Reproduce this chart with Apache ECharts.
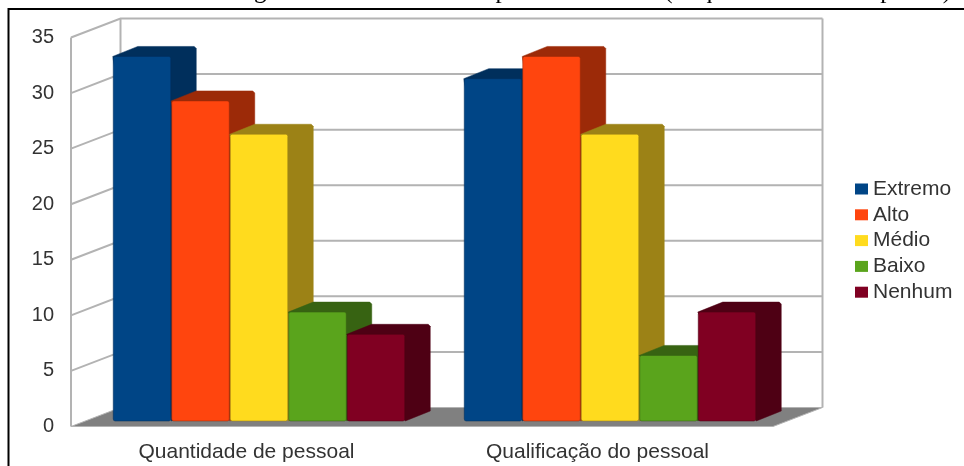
<!DOCTYPE html>
<html>
<head>
<meta charset="utf-8">
<style>html,body{margin:0;padding:0;background:#fff}#chart{width:964px;height:466px}</style>
<script src="https://cdn.jsdelivr.net/npm/echarts@6/dist/echarts.min.js"></script>
</head>
<body>
<div id="chart"></div>
<script>
// Chart data
const categories = ['Quantidade de pessoal', 'Qualificação do pessoal'];
const levels = ['Extremo', 'Alto', 'Médio', 'Baixo', 'Nenhum'];
const extremo = [32.8, 30.8];
const alto = [28.8, 32.8];
const medio = [25.8, 25.8];
const baixo = [9.8, 5.9];
const nenhum = [7.8, 9.8];
const yTicks = [0, 5, 10, 15, 20, 25, 30, 35];
const captionText = 'Nível geral de necessidade de pessoal no ramo (% que o total das respostas)';

// Front face and darker side/top tone of each level
const frontColors = ['#004586', '#ff450e', '#ffdb1e', '#5aa41c', '#800022'];
const sideColors = ['#002f5c', '#9c2a08', '#9c8216', '#376312', '#4e0014'];
const levelValues = [extremo, alto, medio, baixo, nenhum];

// Oblique projection of the box
const BOX_DX = 49.5, BOX_DY = -19;
const BAR_DX = 25, BAR_DY = -10;
const PLANE_DX = 12.5, PLANE_DY = -5.5;
const GRID_COLOR = '#b3b3b3';

function renderWalls(params, api) {
  const cs = params.coordSys;
  const tick = api.value(0);
  const y = api.coord([0, tick])[1];
  const x0 = cs.x, x1 = cs.x + cs.width;
  const line = { stroke: GRID_COLOR, lineWidth: 2, fill: null };
  const children = [];
  if (tick === 0) {
    children.push({
      type: 'polygon',
      shape: { points: [[x0, y], [x1, y], [x1 + BOX_DX, y + BOX_DY], [x0 + BOX_DX, y + BOX_DY]] },
      style: { fill: '#808080', stroke: GRID_COLOR, lineWidth: 1 }
    });
  } else {
    children.push({
      type: 'polyline',
      shape: { points: [[x0, y], [x0 + BOX_DX, y + BOX_DY], [x1 + BOX_DX, y + BOX_DY]] },
      style: line
    });
  }
  if (tick === 35) {
    const yBase = api.coord([0, 0])[1];
    children.push(
      { type: 'line', shape: { x1: x0, y1: y, x2: x0, y2: yBase }, style: line },
      { type: 'line', shape: { x1: x0 + BOX_DX, y1: y + BOX_DY, x2: x0 + BOX_DX, y2: yBase + BOX_DY }, style: line },
      { type: 'line', shape: { x1: x1 + BOX_DX, y1: y + BOX_DY, x2: x1 + BOX_DX, y2: yBase + BOX_DY }, style: line }
    );
  }
  return { type: 'group', children };
}

function barRenderer(levelIndex) {
  return function (params, api) {
    const base = api.coord([api.value(0), 0]);
    const top = api.coord([api.value(0), api.value(1)]);
    const width = api.size([1, 0])[0] / 6;
    const left = base[0] + PLANE_DX + (levelIndex - levels.length / 2) * width;
    const right = left + width;
    const yTop = top[1] + PLANE_DY;
    const yBase = base[1] + PLANE_DY;
    return {
      type: 'group',
      children: [
        {
          type: 'polygon',
          shape: {
            points: [
              [left, yTop],
              [left + BAR_DX, yTop + BAR_DY],
              [right + BAR_DX - 2, yTop + BAR_DY],
              [right + BAR_DX, yTop + BAR_DY + 2],
              [right + BAR_DX, yBase + BAR_DY],
              [right, yBase]
            ]
          },
          style: { fill: sideColors[levelIndex], stroke: sideColors[levelIndex], lineWidth: 0.5 }
        },
        {
          type: 'rect',
          shape: { x: left + 0.5, y: yTop, width: width - 1, height: yBase - yTop, r: 2 },
          style: { fill: frontColors[levelIndex], stroke: sideColors[levelIndex], lineWidth: 1, strokeOpacity: 0.55 }
        }
      ]
    };
  };
}

const wallSeries = {
  name: 'Grade',
  type: 'custom',
  silent: true,
  clip: false,
  z: 1,
  renderItem: renderWalls,
  encode: { y: 0 },
  data: yTicks.map(t => [t])
};

const barSeries = levels.map((name, i) => ({
  name,
  type: 'custom',
  clip: false,
  z: 2 + i,
  itemStyle: { color: frontColors[i] },
  renderItem: barRenderer(i),
  encode: { x: 0, y: 1 },
  data: levelValues[i].map((v, c) => [c, v])
}));

const chart = echarts.init(document.getElementById('chart'));
chart.setOption({
  animation: false,
  backgroundColor: '#ffffff',
  grid: { left: 71, right: 191, top: 37.5, bottom: 39.5, containLabel: false },
  xAxis: {
    type: 'category',
    data: categories,
    axisLine: { show: false },
    axisTick: { show: false },
    splitLine: { show: false },
    axisLabel: { color: '#333333', fontFamily: 'Liberation Sans', fontSize: 21, margin: 15 }
  },
  yAxis: {
    type: 'value',
    min: 0,
    max: 35,
    interval: 5,
    axisLine: { show: false },
    axisTick: { show: false },
    splitLine: { show: false },
    axisLabel: { color: '#333333', fontFamily: 'Liberation Sans', fontSize: 20, margin: 17, padding: [2, 0, 0, 0] }
  },
  legend: {
    data: levels,
    orient: 'vertical',
    left: 855,
    top: 178,
    itemWidth: 13,
    itemHeight: 11,
    itemGap: 3.8,
    icon: 'rect',
    padding: 0,
    selectedMode: false,
    textStyle: { color: '#333333', fontFamily: 'Liberation Sans', fontSize: 21, lineHeight: 22 }
  },
  graphic: [
    {
      type: 'text',
      silent: true,
      x: 951,
      y: 4,
      style: {
        text: captionText,
        fill: '#000000',
        font: '25px "Liberation Serif"',
        align: 'right',
        verticalAlign: 'bottom'
      }
    },
    {
      type: 'polyline',
      silent: true,
      shape: { points: [[8.5, 466], [8.5, 9], [964, 9]] },
      style: { stroke: '#000000', lineWidth: 2, fill: null }
    }
  ],
  series: [wallSeries, ...barSeries]
});
</script>
</body>
</html>
